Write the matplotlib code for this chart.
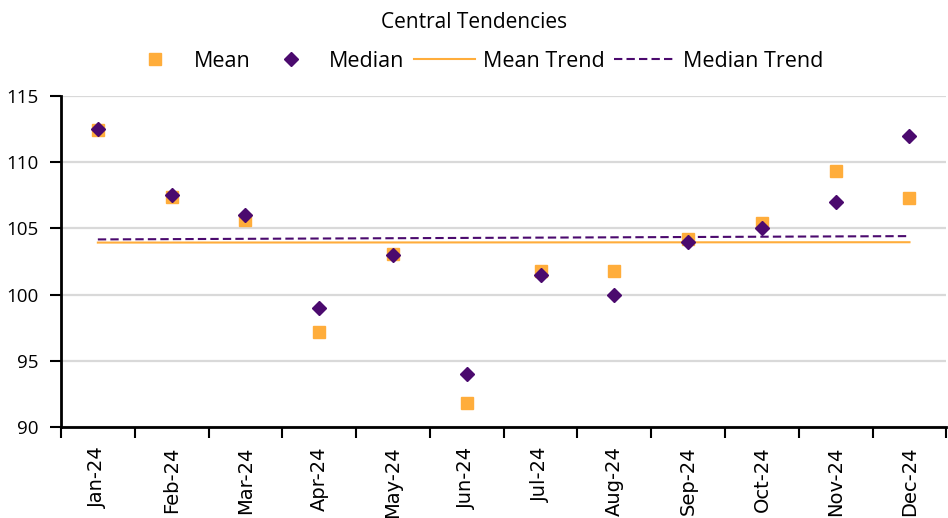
import numpy as np
import matplotlib.pyplot as plt

# Data
months = ["Jan-24", "Feb-24", "Mar-24", "Apr-24", "May-24", "Jun-24",
          "Jul-24", "Aug-24", "Sep-24", "Oct-24", "Nov-24", "Dec-24"]
mean_vals = [112.4, 107.4, 105.6, 97.2, 103.1, 91.8,
             101.8, 101.8, 104.2, 105.4, 109.3, 107.3]
median_vals = [112.5, 107.5, 106.0, 99.0, 103.0, 94.0,
               101.5, 100.0, 104.0, 105.0, 107.0, 112.0]

orange = "#FFAD3B"
purple = "#4B0A6E"

x = np.arange(len(months))

# linear trend lines (like excel trendline)
mean_fit = np.polyfit(x, mean_vals, 1)
median_fit = np.polyfit(x, median_vals, 1)

fig = plt.figure(figsize=(9.48, 5.18), dpi=100)
ax = fig.add_axes([0.0643, 0.1757, 0.934, 0.639])

ax.plot(x, mean_vals, "s", color=orange, markersize=9, label="Mean", zorder=3)
ax.plot(x, median_vals, "D", color=purple, markersize=7, label="Median", zorder=4)
ax.plot(x, np.polyval(mean_fit, x), "-", color=orange, lw=1.5, label="Mean Trend", zorder=2)
ax.plot(x, np.polyval(median_fit, x), "--", color=purple, lw=1.5, dashes=(4, 2),
        label="Median Trend", zorder=2)

ax.set_ylim(90, 115)
ax.set_xlim(-0.5, len(months) - 0.5)
ax.set_yticks([90, 95, 100, 105, 110, 115])
ax.grid(axis="y", color="#d9d9d9", lw=1.6, zorder=0)
ax.set_axisbelow(True)

# month labels centred, ticks at category boundaries
ax.set_xticks(x)
ax.set_xticklabels(months, rotation=90, fontsize=14, family="DejaVu Sans")
ax.tick_params(axis="x", which="major", length=0, pad=14)
ax.set_xticks(np.arange(-0.5, len(months)), minor=True)
ax.tick_params(axis="x", which="minor", length=8, width=1.5, color="black")
ax.tick_params(axis="y", length=8, width=1.5, labelsize=13.5, pad=8)
for lab in ax.get_yticklabels():
    lab.set_family("Open Sans")

for s in ["top", "right"]:
    ax.spines[s].set_visible(False)
for s in ["left", "bottom"]:
    ax.spines[s].set_linewidth(2)

leg = fig.legend(loc="upper center", bbox_to_anchor=(0.5, 1.015), ncol=4, frameon=False,
                 title="Central Tendencies", prop={"family": "Open Sans", "size": 15.5},
                 title_fontproperties={"family": "Open Sans", "size": 15},
                 handlelength=2.85, handletextpad=0.35, columnspacing=0.45,
                 labelspacing=0.3)
leg._legend_box.sep = 13

fig.savefig("out.png", dpi=100)
